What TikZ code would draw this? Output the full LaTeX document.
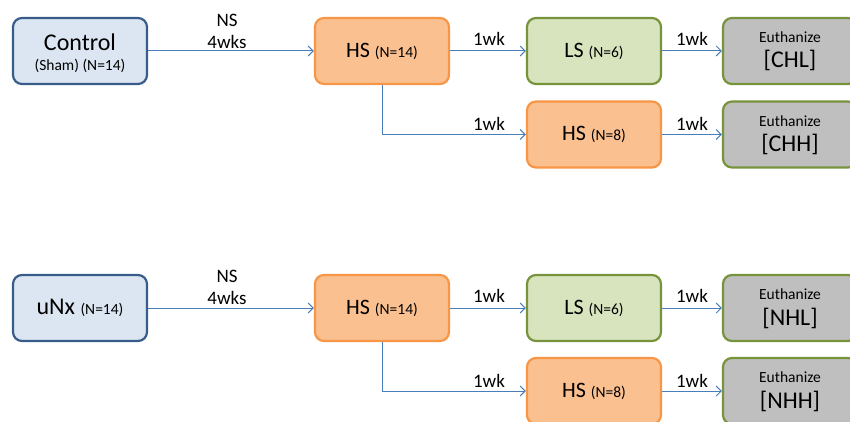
\documentclass[tikz,border=0pt]{standalone}
\usepackage{fontspec}
\setmainfont{Carlito}
\usetikzlibrary{arrows.meta}
\definecolor{bfill}{HTML}{DCE6F2}
\definecolor{bdraw}{HTML}{385D8A}
\definecolor{ofill}{HTML}{FAC090}
\definecolor{odraw}{HTML}{F79646}
\definecolor{gfill}{HTML}{D7E4BD}
\definecolor{gdraw}{HTML}{77933C}
\definecolor{efill}{HTML}{BFBFBF}
\definecolor{arr}{HTML}{4A7EBB}
\tikzset{
  box/.style={rectangle, rounded corners=9pt, line width=2.2pt, minimum width=134pt, minimum height=66pt, inner sep=0pt, align=center},
  bluebox/.style={box, draw=bdraw, fill=bfill},
  orbox/.style={box, draw=odraw, fill=ofill},
  grbox/.style={box, draw=gdraw, fill=gfill},
  eubox/.style={box, draw=gdraw, fill=efill},
  conn/.style={draw=arr, line width=1pt, -{Straight Barb[length=5pt,width=10pt,line width=1pt]}},
  lbl/.style={font=\fontsize{19}{19}\selectfont, inner sep=0pt},
  big/.style={font=\fontsize{24}{24}\selectfont},
  eu/.style={font=\fontsize{15.5}{15.5}\selectfont},
}
\newcommand{\sm}[1]{{\fontsize{15.5}{15.5}\selectfont #1}}
\begin{document}
\begin{tikzpicture}[x=1pt,y=-1pt]
\useasboundingbox (0,0) rectangle (850,422);
\clip (0,0) rectangle (850,422);
% top row
\node[bluebox] (ctrl) at (80,51) {};
\node[big] at (80,42) {Control};
\node[font=\fontsize{15.5}{15.5}\selectfont] at (80,66) {(Sham) (N=14)};
\node[orbox] (hsa) at (382,51) {\fontsize{22}{22}\selectfont HS \sm{(N=14)}};
\node[grbox] (lsa) at (594,51) {\fontsize{22}{22}\selectfont LS \sm{(N=6)}};
\node[eubox] (chl) at (790,51) {};
\node[eu] at (790,37) {Euthanize};
\node[big] at (790,60) {[CHL]};
\node[orbox] (hsb) at (594,134.5) {\fontsize{22}{22}\selectfont HS \sm{(N=8)}};
\node[eubox] (chh) at (790,134.5) {};
\node[eu] at (790,121) {Euthanize};
\node[big] at (790,144) {[CHH]};
% bottom row
\node[bluebox] (unx) at (80,308) {\fontsize{24}{24}\selectfont uNx \sm{(N=14)}};
\node[orbox] (hsc) at (382,308) {\fontsize{22}{22}\selectfont HS \sm{(N=14)}};
\node[grbox] (lsc) at (594,308) {\fontsize{22}{22}\selectfont LS \sm{(N=6)}};
\node[eubox] (nhl) at (790,308) {};
\node[eu] at (790,294) {Euthanize};
\node[big] at (790,318) {[NHL]};
\node[orbox] (hsd) at (594,391) {\fontsize{22}{22}\selectfont HS \sm{(N=8)}};
\node[eubox] (nhh) at (790,391) {};
\node[eu] at (790,377) {Euthanize};
\node[big] at (790,401) {[NHH]};
% connectors top
\draw[conn] (ctrl) -- (hsa);
\node[lbl] at (227,20) {NS};
\node[lbl] at (227,42) {4wks};
\draw[conn] (hsa) -- (lsa);
\node[lbl] at (489,39) {1wk};
\draw[conn] (lsa) -- (chl);
\node[lbl] at (692,39) {1wk};
\draw[conn] (hsa.south) |- (hsb.west);
\node[lbl] at (489,124) {1wk};
\draw[conn] (hsb) -- (chh);
\node[lbl] at (692,124) {1wk};
% connectors bottom
\draw[conn] (unx) -- (hsc);
\node[lbl] at (227,276) {NS};
\node[lbl] at (227,298) {4wks};
\draw[conn] (hsc) -- (lsc);
\node[lbl] at (489,296) {1wk};
\draw[conn] (lsc) -- (nhl);
\node[lbl] at (692,296) {1wk};
\draw[conn] (hsc.south) |- (hsd.west);
\node[lbl] at (489,381) {1wk};
\draw[conn] (hsd) -- (nhh);
\node[lbl] at (692,381) {1wk};
\end{tikzpicture}
\end{document}
